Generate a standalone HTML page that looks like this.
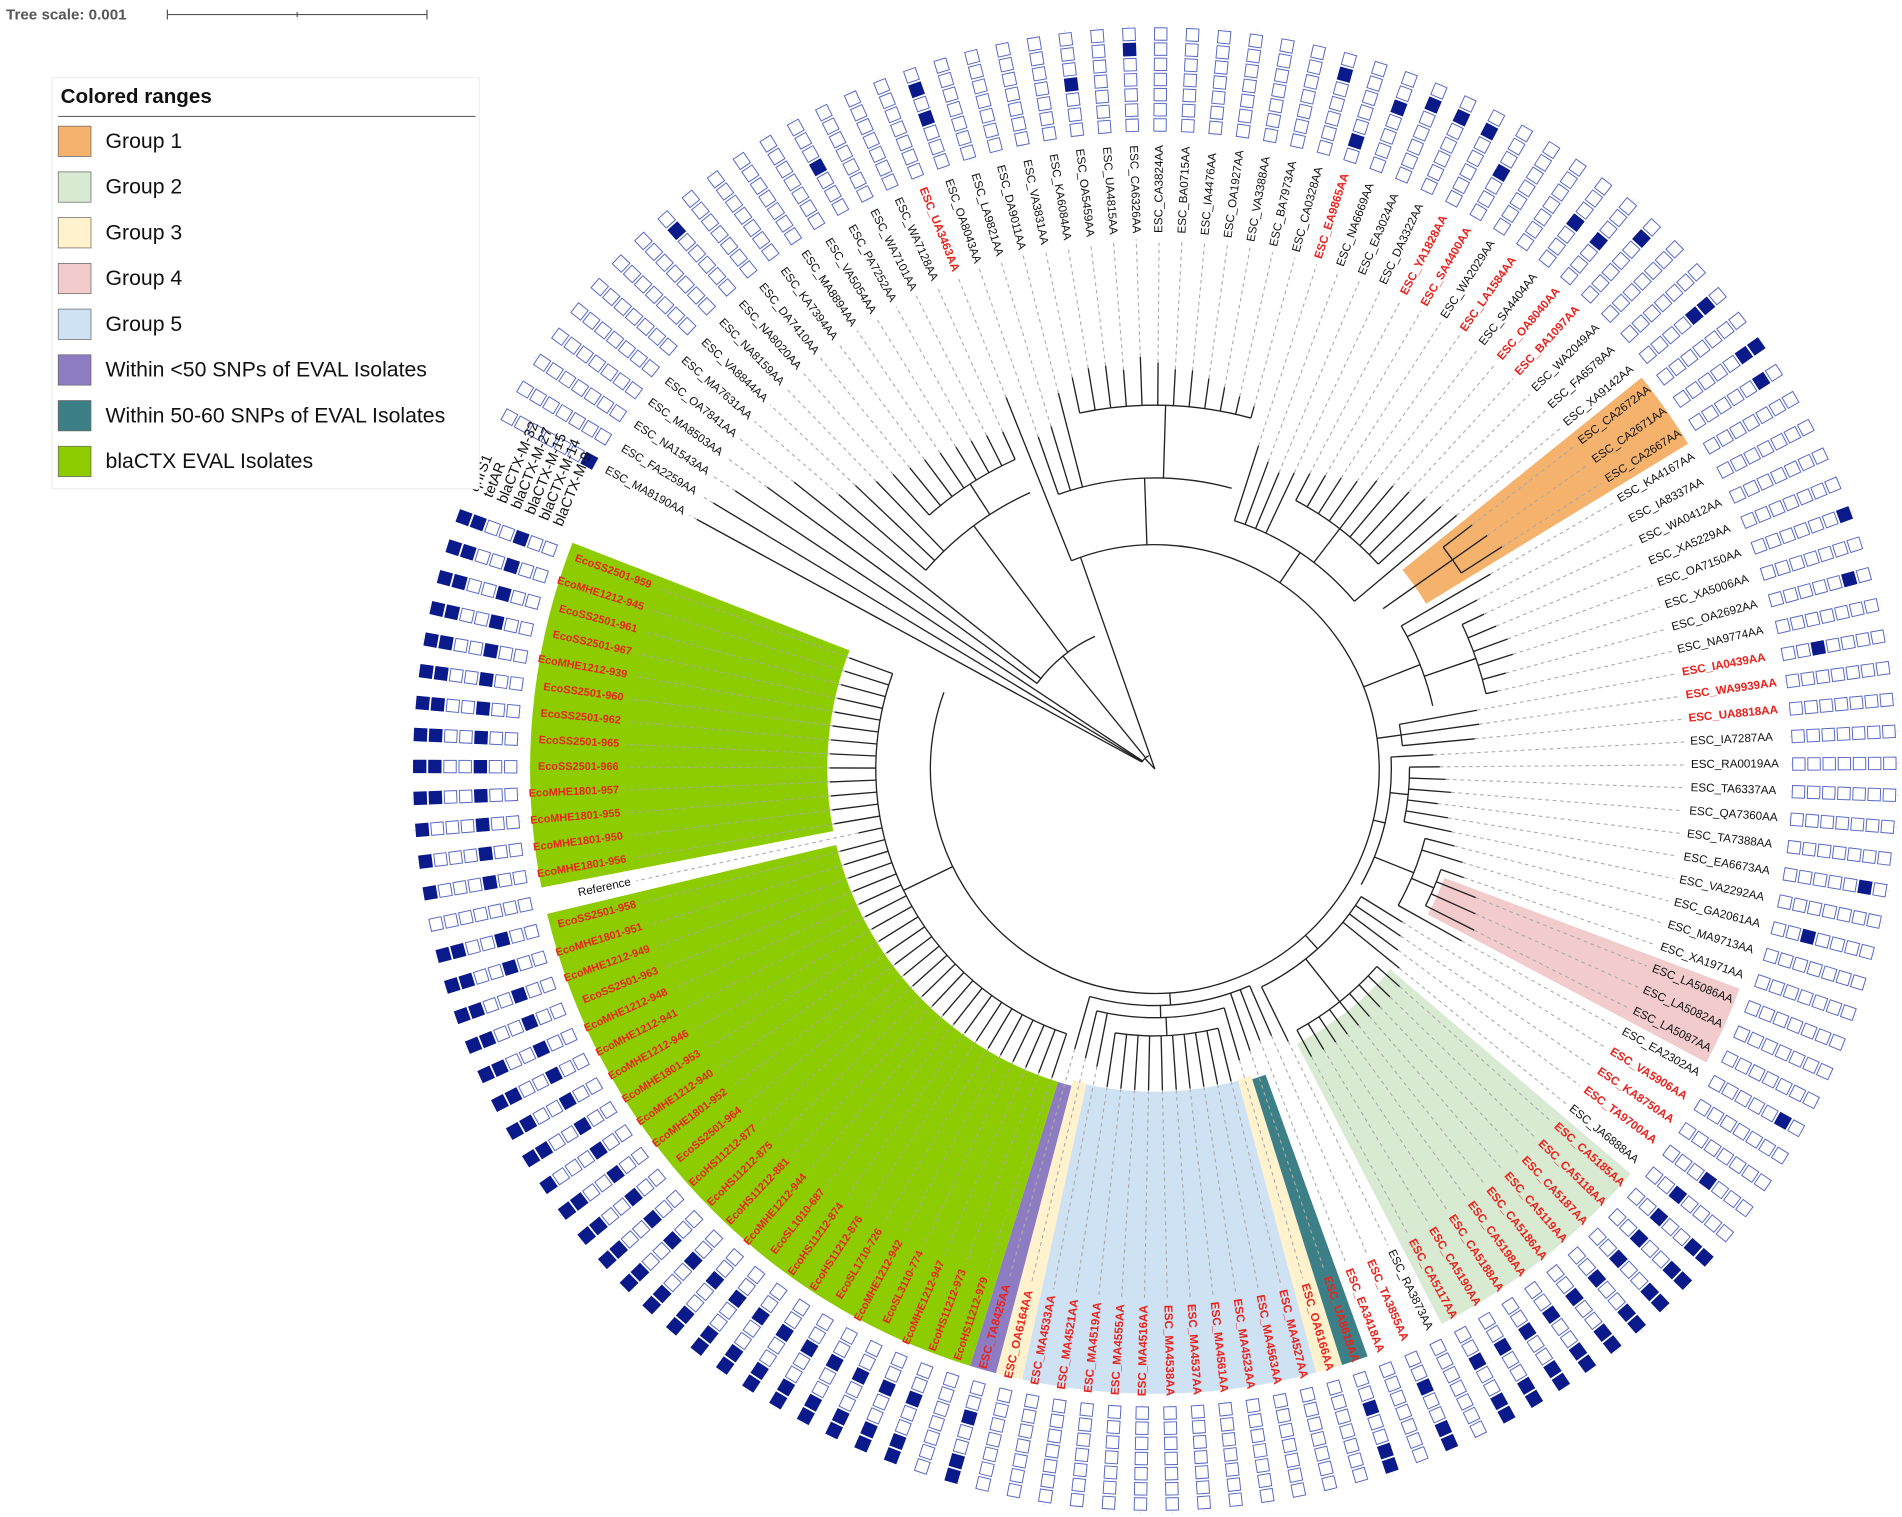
<!DOCTYPE html>
<html><head><meta charset="utf-8">
<style>
html,body{margin:0;padding:0;background:#fff;}
svg{display:block;}
text{font-family:"Liberation Sans",Arial,sans-serif;}
</style></head>
<body>
<svg id="chart" xmlns="http://www.w3.org/2000/svg" width="1902" height="1517" viewBox="0 0 1568 1250.6" preserveAspectRatio="none">
  <g>
    <text x="5" y="16" font-size="12.5" font-weight="bold" fill="#555">Tree scale: 0.001</text>
    <line x1="138" y1="12" x2="352" y2="12" stroke="#555" stroke-width="1"/>
    <line x1="138" y1="8" x2="138" y2="16" stroke="#555"/>
    <line x1="245" y1="10" x2="245" y2="14" stroke="#555"/>
    <line x1="352" y1="8" x2="352" y2="16" stroke="#555"/>
  </g>
  <g id="ranges"></g>
  <g id="tree"></g>
  <g id="labels"></g>
  <g id="ring"></g>
  <g id="headers"></g>
  <g id="legend"></g>
</svg>
<script>
const leafNames = ["ESC_MA8190AA","ESC_FA2259AA","ESC_NA1543AA","ESC_MA8503AA","ESC_OA7841AA","ESC_MA7631AA","ESC_VA8844AA","ESC_NA8159AA","ESC_NA8020AA","ESC_DA7410AA","ESC_KA7394AA","ESC_MA8894AA","ESC_VA5054AA","ESC_PA7252AA","ESC_WA7101AA","ESC_WA7128AA","ESC_UA3463AA","ESC_OA8043AA","ESC_LA9821AA","ESC_DA9011AA","ESC_VA3831AA","ESC_KA6084AA","ESC_OA5459AA","ESC_UA4815AA","ESC_CA6326AA","ESC_CA3824AA","ESC_BA0715AA","ESC_IA4476AA","ESC_OA1927AA","ESC_VA3388AA","ESC_BA7973AA","ESC_CA0328AA","ESC_EA9865AA","ESC_NA6669AA","ESC_EA3024AA","ESC_DA3322AA","ESC_YA1828AA","ESC_SA4400AA","ESC_WA2029AA","ESC_LA1584AA","ESC_SA4404AA","ESC_OA8040AA","ESC_BA1097AA","ESC_WA2049AA","ESC_FA6578AA","ESC_XA9142AA","ESC_CA2672AA","ESC_CA2671AA","ESC_CA2667AA","ESC_KA4167AA","ESC_IA8337AA","ESC_WA0412AA","ESC_XA5229AA","ESC_OA7150AA","ESC_XA5006AA","ESC_OA2692AA","ESC_NA9774AA","ESC_IA0439AA","ESC_WA9939AA","ESC_UA8818AA","ESC_IA7287AA","ESC_RA0019AA","ESC_TA6337AA","ESC_QA7360AA","ESC_TA7388AA","ESC_EA6673AA","ESC_VA2292AA","ESC_GA2061AA","ESC_MA9713AA","ESC_XA1971AA","ESC_LA5086AA","ESC_LA5082AA","ESC_LA5087AA","ESC_EA2302AA","ESC_VA5906AA","ESC_KA8750AA","ESC_TA9700AA","ESC_JA6888AA","ESC_CA5185AA","ESC_CA5118AA","ESC_CA5187AA","ESC_CA5119AA","ESC_CA5186AA","ESC_CA5198AA","ESC_CA5188AA","ESC_CA5190AA","ESC_CA5117AA","ESC_RA3873AA","ESC_TA3855AA","ESC_EA3418AA","ESC_UA8618AA","ESC_OA6166AA","ESC_MA4527AA","ESC_MA4563AA","ESC_MA4523AA","ESC_MA4561AA","ESC_MA4537AA","ESC_MA4538AA","ESC_MA4516AA","ESC_MA4555AA","ESC_MA4519AA","ESC_MA4521AA","ESC_MA4533AA","ESC_OA6164AA","ESC_TA8425AA","EcoHS11212-979","EcoHS11212-973","EcoMHE1212-947","EcoSL3110-774","EcoMHE1212-942","EcoSL1710-726","EcoHS11212-876","EcoHS11212-874","EcoSL1010-687","EcoMHE1212-944","EcoHS11212-881","EcoHS11212-875","EcoHS11212-877","EcoSS2501-964","EcoMHE1801-952","EcoMHE1212-940","EcoMHE1801-953","EcoMHE1212-946","EcoMHE1212-941","EcoMHE1212-948","EcoSS2501-963","EcoMHE1212-949","EcoMHE1801-951","EcoSS2501-958","Reference","EcoMHE1801-956","EcoMHE1801-950","EcoMHE1801-955","EcoMHE1801-957","EcoSS2501-966","EcoSS2501-965","EcoSS2501-962","EcoSS2501-960","EcoMHE1212-939","EcoSS2501-967","EcoSS2501-961","EcoMHE1212-945","EcoSS2501-959"];
const redLeaves = [16,32,36,37,39,41,42,57,58,59,74,75,76,78,79,80,81,82,83,84,85,86,88,89,90,91,92,93,94,95,96,97,98,99,100,101,102,103,104,105,106,107,108,109,110,111,112,113,114,115,116,117,118,119,120,121,122,123,124,125,126,127,128,130,131,132,133,134,135,136,137,138,139,140,141,142];
const tipR = [430,425,415,395,380,345,340,330,325,320,318,315,312,310,308,305,
 330,290,295,320,330,335,335,330,340,335,330,330,325,320,315,310,
 280,270,265,270,275,280,285,290,300,305,310,315,320,325,
 330,335,340,320,300,300,305,310,310,300,290,
 270,270,265,230,235,240,245,235,245,250,255,265,270,285,290,295,290,
 240,245,250,260,270,270,270,270,270,270,270,270,270,250,
 240,240,245,250,265,265,265,265,265,265,265,265,265,265,250,245,240,
 268,268,268,268,268,268,268,268,268,268,268,268,268,268,268,268,268,268,268,268,268,268,268,268,250,
 268,268,268,268,268,268,268,268,268,268,268,268,268];
// clades: start leaf, end leaf, node radius, parent radius
const cladeStart = [0,3,5,8,16,17,20,32,36,46,49,51,57,60,61,67,69,74,78,88,91,92,105];
const cladeEnd   = [15,15,15,15,142,31,31,45,44,48,56,56,59,73,66,73,72,87,86,104,103,101,142];
const cladeNodeR = [12,120,250,280,185,240,300,215,250,300,235,280,205,195,210,230,250,200,245,195,205,220,230];
const cladeParR  = [0,12,120,250,0,185,240,185,215,230,185,235,185,185,195,195,230,185,200,185,195,205,185];
const rangeNames = ["Group 1","Group 2","Group 3","Group 4","Group 5","Within <50 SNPs of EVAL Isolates","Within 50-60 SNPs of EVAL Isolates","blaCTX EVAL Isolates"];
const rangeColors = ["#f4b26c","#d9ead3","#fff2cc","#f2cccc","#cfe2f3","#8e7cc3","#3d7f86","#8ccc00"];
const rangeSpanStart = [46,78,91,103,70,92,104,90,105,130];
const rangeSpanEnd   = [48,86,91,103,72,102,104,90,128,142];
const rangeSpanGroup = [0,1,2,2,3,4,5,6,7,7];
const rangeSpanInner = [262,255,265,265,255,266,270,268,270,270];
const geneNames = ["qnrS1","tetAR","blaCTX-M-32","blaCTX-M-27","blaCTX-M-15","blaCTX-M-14","blaCTX-M-9"];
const genePresence = ["0000001","0000000","0000000","0000000","0000000","0000000","0000000","0000000","0100000","0000000","0000000","0000000","0000000","0001000","0000000","0000000","0000000","0101000","0000000","0000000","0000000","0000000","0001000","0000000","0100000","0000000","0000000","0000000","0000000","0000000","0000000","0100000","0000010","0010000","0100000","0100000","0100000","0001000","0000000","0000000","0001000","0001000","0100000","0000000","0000000","0110000","0000000","1100000","0100000","0000000","0000000","0000000","0000000","1000000","0000000","0100000","0000000","0000100","0000000","0000000","0000000","0000000","0000000","0000000","0000000","0100000","0000000","0000100","0000000","0000000","0000000","0000000","0000000","0100000","0000000","0000000","0001000","0000100","1100100","1100100","1100100","1100100","1100100","1100100","1100100","1100100","1100100","0000000","1100100","0000000","1100100","0000000","0000000","0000000","0000000","0000000","0000000","0000000","0000000","0000000","0000000","0000000","0000000","0000000","1100100","0000000","1100100","1100100","1100100","1100100","1100100","1100100","1100100","1100100","1100100","1100100","1100100","1100100","1100100","1100100","1000100","1100100","1100100","1100100","1100100","1100100","1100100","1100100","1100100","0000000","1000100","1000100","1000100","1100100","1100100","1100100","1100100","1100100","1100100","1100100","1100100","1100100","1100100"];

const NS = "http://www.w3.org/2000/svg";
const CX = 952, CY = 634;
const A0 = 208.6, A1 = 560;
const step = (A1 - A0) / (leafNames.length - 1);
const LABEL_R = 442, DASH_END = 437, OUTER_R = 515;
const RING_OUT = 606, RING_STEP = 12.5, SQ = 10.2;
function ang(i){ return A0 + i * step; }
function pt(r, a){ const t = a * Math.PI / 180; return [CX + r * Math.cos(t), CY + r * Math.sin(t)]; }
function mk(tag, attrs, parent){ const e = document.createElementNS(NS, tag); for (const k in attrs) e.setAttribute(k, attrs[k]); parent.appendChild(e); return e; }
function arcPath(r, a0, a1){ const p0 = pt(r, a0), p1 = pt(r, a1); const large = (a1 - a0) > 180 ? 1 : 0; return `M${p0[0]},${p0[1]} A${r},${r} 0 ${large} 1 ${p1[0]},${p1[1]}`; }

// ranges
const gR = document.getElementById('ranges');
for (let k = 0; k < rangeSpanStart.length; k++) {
  const a0 = ang(rangeSpanStart[k]) - step / 2, a1 = ang(rangeSpanEnd[k]) + step / 2;
  const ri = rangeSpanInner[k], ro = OUTER_R;
  const p0 = pt(ri, a0), p1 = pt(ro, a0), p2 = pt(ro, a1), p3 = pt(ri, a1);
  const large = (a1 - a0) > 180 ? 1 : 0;
  const el = mk('path', {d: `M${p0[0]},${p0[1]} L${p1[0]},${p1[1]} A${ro},${ro} 0 ${large} 1 ${p2[0]},${p2[1]} L${p3[0]},${p3[1]} A${ri},${ri} 0 ${large} 0 ${p0[0]},${p0[1]} Z`, fill: rangeColors[rangeSpanGroup[k]]}, gR);
  
  
}

// tree
const gT = document.getElementById('tree');
function parentRadius(i){
  let best = -1, bestSpan = 1e9;
  for (let c = 0; c < cladeStart.length; c++) {
    if (i >= cladeStart[c] && i <= cladeEnd[c]) { const s = cladeEnd[c] - cladeStart[c]; if (s < bestSpan) { bestSpan = s; best = c; } }
  }
  return best < 0 ? 0 : cladeNodeR[best];
}
for (let c = 0; c < cladeStart.length; c++) {
  const a0 = ang(cladeStart[c]), a1 = ang(cladeEnd[c]);
  const arc = mk('path', {d: arcPath(cladeNodeR[c], a0, a1), fill: 'none', stroke: '#222', 'stroke-width': 1.1}, gT);
  
  
  const am = (cladeStart[c] === 16) ? ang(17) : (a0 + a1) / 2;
  const q0 = pt(cladeParR[c], am), q1 = pt(cladeNodeR[c], am);
  const ln = mk('line', {x1: q0[0], y1: q0[1], x2: q1[0], y2: q1[1], stroke: '#222', 'stroke-width': 1.1}, gT);
  
  
}
const gL = document.getElementById('labels');
for (let i = 0; i < leafNames.length; i++) {
  const a = ang(i);
  const pr = parentRadius(i);
  const b0 = pt(pr, a), b1 = pt(tipR[i], a);
  const br = mk('line', {x1: b0[0], y1: b0[1], x2: b1[0], y2: b1[1], stroke: '#222', 'stroke-width': 1.1}, gT);
  
  
  const d1 = pt(DASH_END, a);
  const dl = mk('line', {x1: b1[0], y1: b1[1], x2: d1[0], y2: d1[1], stroke: '#aaa', 'stroke-width': 0.9, 'stroke-dasharray': '3,3'}, gT);
  
  
  // label
  const isRed = redLeaves.indexOf(i) >= 0;
  const an = ((a % 360) + 360) % 360;
  const left = an > 90 && an < 270;
  const p = pt(LABEL_R, a);
  const rot = left ? an + 180 : an;
  const t = mk('text', {x: p[0], y: p[1], 'font-size': leafNames[i].startsWith('Eco') ? 9 : 9.6, fill: isRed ? '#e8231e' : '#111', 'font-weight': isRed ? 'bold' : 'normal', 'text-anchor': left ? 'end' : 'start', 'dominant-baseline': 'middle', transform: `rotate(${rot},${p[0]},${p[1]})`}, gL);
  t.textContent = leafNames[i];
  
  
}

// ring of squares
const gG = document.getElementById('ring');
for (let i = 0; i < leafNames.length; i++) {
  const a = ang(i);
  const g0 = pt(RING_OUT + 8, a), g1 = pt(RING_OUT - RING_STEP * 6 - 8, a);
  const gl = mk('line', {x1: g0[0], y1: g0[1], x2: g1[0], y2: g1[1], stroke: '#e2e2e2', 'stroke-width': 0.8, 'stroke-dasharray': '2,2'}, gG);
  
  
  for (let c = 0; c < geneNames.length; c++) {
    const r = RING_OUT - c * RING_STEP;
    const p = pt(r, a);
    const on = genePresence[i][c] === '1';
    const sq = mk('rect', {x: p[0] - SQ / 2, y: p[1] - SQ / 2, width: SQ, height: SQ, fill: on ? '#0a1a8a' : '#fff', stroke: on ? '#0a1a8a' : '#5566c4', 'stroke-width': 0.8, transform: `rotate(${a},${p[0]},${p[1]})`}, gG);
    
    
  }
}
// headers
const gH = document.getElementById('headers');
const hA = ang(leafNames.length - 1) + 2.2;
for (let c = 0; c < geneNames.length; c++) {
  const r = RING_OUT - c * RING_STEP;
  const p = pt(r, hA);
  const t = mk('text', {x: p[0], y: p[1], 'font-size': 12, fill: '#111', 'dominant-baseline': 'middle', transform: `rotate(${hA + 90 - 360},${p[0]},${p[1]})`}, gH);
  t.textContent = geneNames[c];
  
  
}

// legend
const gLe = document.getElementById('legend');
const bx = mk('rect', {x: 43, y: 64, width: 352, height: 339, fill: '#fff', stroke: '#eee'}, gLe);


const lt = mk('text', {x: 50, y: 85, 'font-size': 17, 'font-weight': 'bold', fill: '#111'}, gLe);
lt.textContent = 'Colored ranges';


mk('line', {x1: 48, y1: 96, x2: 392, y2: 96, stroke: '#666', 'stroke-width': 1}, gLe);
for (let k = 0; k < rangeNames.length; k++) {
  const y = 116 + k * 37.7;
  const sw = mk('rect', {x: 48, y: y - 12, width: 27, height: 25, fill: rangeColors[k], stroke: '#666', 'stroke-width': 0.6}, gLe);
  
  
  const tx = mk('text', {x: 87, y: y + 6, 'font-size': 17.5, fill: '#111'}, gLe);
  tx.textContent = rangeNames[k];
  
  
}
</script>
</body></html>
